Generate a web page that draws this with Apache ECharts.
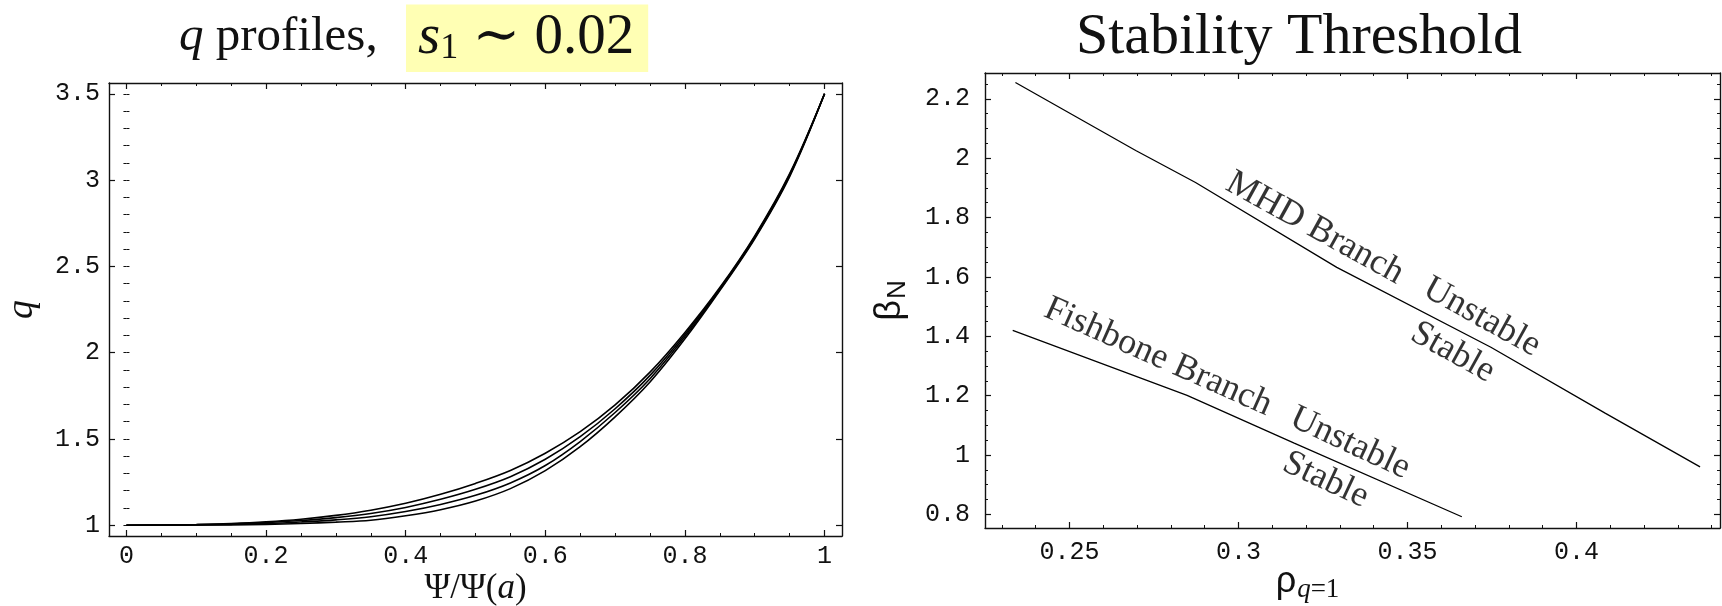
<!DOCTYPE html>
<html>
<head>
<meta charset="utf-8">
<script src="https://cdn.jsdelivr.net/npm/echarts@6/dist/echarts.min.js"></script>
<style>
  html, body { margin: 0; padding: 0; background: #ffffff; }
  #chart { width: 1722px; height: 606px; }
</style>
</head>
<body>
<div id="chart"></div>
<script>
// ---- q profiles: safety factor against normalised poloidal flux ----
const psi = [0, 0.05, 0.1, 0.15, 0.2, 0.25, 0.3, 0.35, 0.4, 0.45, 0.5,
             0.55, 0.6, 0.65, 0.7, 0.75, 0.8, 0.85, 0.9, 0.95, 1];
const qProfileA = [1.000, 1.001, 1.004, 1.010, 1.020, 1.035, 1.057, 1.087, 1.127, 1.179, 1.242,
                   1.317, 1.417, 1.542, 1.697, 1.887, 2.117, 2.377, 2.677, 3.037, 3.500];
const qProfileB = [1.000, 1.001, 1.003, 1.007, 1.015, 1.027, 1.044, 1.068, 1.103, 1.150, 1.208,
                   1.281, 1.382, 1.513, 1.675, 1.868, 2.105, 2.371, 2.671, 3.031, 3.500];
const qProfileC = [1.000, 1.000, 1.002, 1.005, 1.010, 1.019, 1.031, 1.049, 1.079, 1.120, 1.173,
                   1.245, 1.346, 1.485, 1.653, 1.849, 2.093, 2.366, 2.666, 3.026, 3.500];
const qProfileD = [1.000, 1.000, 1.001, 1.002, 1.005, 1.010, 1.018, 1.029, 1.055, 1.090, 1.140,
                   1.212, 1.316, 1.455, 1.628, 1.830, 2.080, 2.360, 2.660, 3.020, 3.500];

// ---- stability thresholds: beta_N against rho of the q = 1 surface ----
const mhdRho   = [0.234, 0.2696, 0.2873, 0.3291, 0.3747, 0.4085, 0.4366];
const mhdBeta  = [2.255, 2.026, 1.918, 1.632, 1.363, 1.141, 0.960];
const fishRho  = [0.2332, 0.2848, 0.3165, 0.3661];
const fishBeta = [1.420, 1.201, 1.040, 0.792];

// region annotations, placed in data coordinates
const noteText = ['MHD Branch', 'Unstable', 'Stable', 'Fishbone Branch', 'Unstable', 'Stable'];
const noteRho  = [0.3226, 0.372, 0.3634, 0.2762, 0.333, 0.3258];
const noteBeta = [1.764, 1.464, 1.346, 1.330, 1.040, 0.916];

// tick labels
const psiTicks  = [0, 0.2, 0.4, 0.6, 0.8, 1];
const qTicks    = [1, 1.5, 2, 2.5, 3, 3.5];
const rhoTicks  = [0.25, 0.3, 0.35, 0.4];
const betaTicks = [0.8, 1, 1.2, 1.4, 1.6, 1.8, 2, 2.2];

// ---------------------------------------------------------------
const ink = '#111111';
const serif = '"Liberation Serif", "DejaVu Serif", serif';
const sans = '"Liberation Sans", "DejaVu Sans", sans-serif';
const mono = '"Liberation Mono", "DejaVu Sans Mono", monospace';

function steps(from, to, step) {
  const out = [];
  const n = Math.round((to - from) / step);
  for (let i = 0; i <= n; i++) out.push(+(from + i * step).toFixed(4));
  return out;
}
const fmt = v => String(+(+v).toFixed(3));

// a framed axis pair: labelled side plus mirrored side, each with major and minor inward ticks
function frameAxes(dim, gridIndex, min, max, major, minor, labelOpt, nameOpt) {
  const sides = dim === 'x' ? ['bottom', 'top'] : ['left', 'right'];
  const out = [];
  sides.forEach((pos, i) => {
    const main = {
      type: 'value', gridIndex, position: pos, min, max,
      axisLine: { show: true, onZero: false, lineStyle: { color: ink, width: 1.4 } },
      axisTick: { show: true, inside: true, length: 6, customValues: major,
                  lineStyle: { color: ink, width: 1.2 } },
      axisLabel: i === 0
        ? Object.assign({ show: true, customValues: major, formatter: fmt,
                          fontFamily: mono, fontSize: 25, color: ink }, labelOpt)
        : { show: false },
      splitLine: { show: false }
    };
    if (i === 0) Object.assign(main, { nameMoveOverlap: false }, nameOpt);
    out.push(main);
    out.push({
      type: 'value', gridIndex, position: pos, min, max,
      axisLine: { show: false },
      axisTick: { show: true, inside: true, length: 3, customValues: minor,
                  lineStyle: { color: ink, width: 1 } },
      axisLabel: { show: false },
      splitLine: { show: false }
    });
  });
  return out;
}

const xAxes = [].concat(
  frameAxes('x', 0, -0.025, 1.025, psiTicks, steps(0, 1, 0.05), { margin: 8 }, {
    name: '{t|Ψ/Ψ(}{i|a}{t|)}', nameLocation: 'middle', nameGap: 35,
    nameTextStyle: { rich: {
      t: { fontFamily: serif, fontSize: 35, color: ink },
      i: { fontFamily: serif, fontSize: 35, fontStyle: 'italic', color: ink }
    } }
  }),
  frameAxes('x', 1, 0.225, 0.4425, rhoTicks, steps(0.23, 0.44, 0.01), { margin: 12 }, {
    name: '{r|ρ}{q|q}{e|=1}', nameLocation: 'middle', nameGap: 34,
    nameTextStyle: { padding: [0, 90, 0, 0], rich: {
      r: { fontFamily: sans, fontSize: 36, color: ink },
      q: { fontFamily: serif, fontSize: 27, fontStyle: 'italic', color: ink, padding: [14, 0, 0, 1] },
      e: { fontFamily: serif, fontSize: 27, color: ink, padding: [14, 0, 0, 0] }
    } }
  })
);

const yAxes = [].concat(
  frameAxes('y', 0, 0.9375, 3.5625, qTicks, steps(1, 3.5, 0.1), { margin: 9 }, {
    name: 'q', nameLocation: 'middle', nameRotate: 90, nameGap: 68,
    nameTextStyle: { fontFamily: serif, fontSize: 38, fontStyle: 'italic', color: ink }
  }),
  frameAxes('y', 1, 0.754, 2.287, betaTicks, steps(0.8, 2.25, 0.05), { margin: 15 }, {
    name: '{b|β}{n|N}', nameLocation: 'middle', nameRotate: 90, nameGap: 74,
    nameTextStyle: { rich: {
      b: { fontFamily: sans, fontSize: 36, color: ink },
      n: { fontFamily: sans, fontSize: 26, color: ink, padding: [16, 0, 0, 1] }
    } }
  })
);

const profileLine = (data) => ({
  type: 'line', xAxisIndex: 0, yAxisIndex: 0, showSymbol: false, smooth: 0.35,
  lineStyle: { color: '#000', width: 1.6 },
  data: psi.map((p, i) => [p, data[i]])
});
const thresholdLine = (rho, beta) => ({
  type: 'line', xAxisIndex: 4, yAxisIndex: 4, showSymbol: false,
  lineStyle: { color: '#000', width: 1.3 },
  data: rho.map((r, i) => [r, beta[i]])
});

// text slant follows each branch
const noteAngle = [-29, -29, -29, -24, -25, -25];

const option = {
  animation: false,
  backgroundColor: '#ffffff',
  title: [
    {
      text: '{q|q}{p| profiles,}', left: 174, top: 8,
      textStyle: { rich: {
        q: { fontFamily: serif, fontSize: 49, fontStyle: 'italic', fontWeight: 'normal', color: ink },
        p: { fontFamily: serif, fontSize: 49, fontWeight: 'normal', color: ink }
      } }
    },
    {
      text: '{s|s}{b|1}{r| ∼ 0.02}', left: 406, top: 2,
      backgroundColor: '#ffffb4', padding: [5, 14, 5, 12],
      textStyle: { rich: {
        s: { fontFamily: serif, fontSize: 57, fontStyle: 'italic', fontWeight: 'normal', color: ink, lineHeight: 62 },
        b: { fontFamily: serif, fontSize: 36, fontWeight: 'normal', color: ink, padding: [22, 0, 0, 0] },
        r: { fontFamily: serif, fontSize: 57, fontWeight: 'normal', color: ink, lineHeight: 62 }
      } }
    },
    {
      text: 'Stability Threshold', left: 1294, top: 4, textAlign: 'center',
      textStyle: { fontFamily: serif, fontSize: 58, fontWeight: 'normal', color: ink }
    }
  ],
  grid: [
    { left: 109, right: 880, top: 83, bottom: 70, outerBoundsMode: 'none' },
    { left: 985, right: 2, top: 73, bottom: 78, outerBoundsMode: 'none' }
  ],
  xAxis: xAxes,
  yAxis: yAxes,
  series: [
    profileLine(qProfileA),
    profileLine(qProfileB),
    profileLine(qProfileC),
    profileLine(qProfileD),
    thresholdLine(mhdRho, mhdBeta),
    thresholdLine(fishRho, fishBeta),
    {
      type: 'scatter', xAxisIndex: 4, yAxisIndex: 4, symbolSize: 0, silent: true,
      data: noteText.map((t, i) => ({
        value: [noteRho[i], noteBeta[i]],
        label: { formatter: t, rotate: noteAngle[i] }
      })),
      label: { show: true, position: 'inside', fontFamily: serif, fontSize: 36, color: '#000',
               textBorderWidth: 0, textBorderColor: 'transparent' }
    }
  ]
};

const chart = echarts.init(document.getElementById('chart'), null, { renderer: 'canvas' });
chart.setOption(option);
</script>
</body>
</html>
